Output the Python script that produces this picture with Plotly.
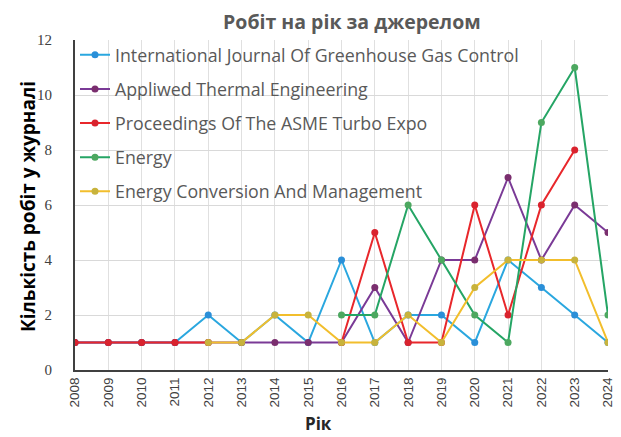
import plotly.graph_objects as go

years = list(range(2008, 2025))
year_labels = [str(y) for y in years]

ijggc = [1, 1, 1, 1, 2, 1, 2, 1, 4, 1, 2, 2, 1, 4, 3, 2, 1]
applied_thermal = [1, 1, 1, 1, 1, 1, 1, 1, 1, 3, 1, 4, 4, 7, 4, 6, 5]
asme_turbo = [1, 1, 1, 1, 1, None, None, None, 1, 5, 1, 1, 6, 2, 6, 8, None]
energy = [None, None, None, None, None, None, None, None, 2, 2, 6, 4, 2, 1, 9, 11, 2]
energy_conv = [None, None, None, None, 1, 1, 2, 2, 1, 1, 2, 1, 3, 4, 4, 4, 1]

series_names = [
    "International Journal Of Greenhouse Gas Control",
    "Appliwed Thermal Engineering",
    "Proceedings Of The ASME Turbo Expo",
    "Energy",
    "Energy Conversion And Management",
]
series_values = [ijggc, applied_thermal, asme_turbo, energy, energy_conv]
colors = ["#2AA7DF", "#7A3A96", "#E8272B", "#25A565", "#F2BE2C"]
marker_colors = ["#2A8FD8", "#7A2E6E", "#D9232E", "#4DA860", "#C8B33C"]

fig = go.Figure()
for i, (name, vals) in enumerate(zip(series_names, series_values)):
    fig.add_trace(go.Scatter(
        x=years, y=vals, name=name, mode="lines+markers",
        line=dict(color=colors[i], width=2),
        marker=dict(color=marker_colors[i], size=7),
        legendgroup=f"g{i}",
    ))

# the page adds an 8px offset, so the figure is 613x429
fig.update_layout(
    width=613, height=429,
    margin=dict(l=67, r=13, t=32, b=67),
    paper_bgcolor="white", plot_bgcolor="white",
    title=dict(text="<b>Робіт на рік за джерелом</b>", x=0.561, xanchor="center",
               y=0.968, yanchor="middle",
               font=dict(family="Open Sans", size=19.5, color="#595959")),
    font=dict(family="Open Sans", color="#404040"),
    legend=dict(x=0.0, y=1.01, xanchor="left", yanchor="top",
                bgcolor="rgba(255,255,255,0)", tracegroupgap=8,
                font=dict(family="Open Sans", size=17.8, color="#595959"),
                itemwidth=30),
    showlegend=True,
    annotations=[
        dict(text="<b>Рік</b>", xref="paper", yref="paper",
             x=0.456, y=-0.162, xanchor="center", yanchor="middle",
             showarrow=False,
             font=dict(family="Open Sans", size=17, color="#262626")),
        dict(text="<b>Кількість робіт у журналі</b>", xref="paper", yref="paper",
             x=-0.088, y=0.494, xanchor="center", yanchor="middle",
             textangle=-90, showarrow=False,
             font=dict(family="Open Sans", size=19, color="#000000")),
    ],
)
fig.update_xaxes(
    range=[2008, 2024], tickmode="array", tickvals=years, ticktext=year_labels,
    tickangle=-90, tickfont=dict(family="Liberation Sans", size=13.5, color="#404040"),
    showgrid=True, gridcolor="#E0E0E0", gridwidth=1, automargin=False,
    showline=True, linecolor="#404040", linewidth=2, zeroline=False,
)
fig.update_yaxes(
    range=[0, 12], tickmode="array", tickvals=[0, 2, 4, 6, 8, 10, 12],
    tickfont=dict(family="Liberation Serif", size=15, color="#404040"),
    showgrid=True, gridcolor="#D9D9D9", gridwidth=1, automargin=False,
    showline=True, linecolor="#404040", linewidth=2, zeroline=False,
    ticks="", ticklabelstandoff=18,
)

fig.write_html("out.html")
